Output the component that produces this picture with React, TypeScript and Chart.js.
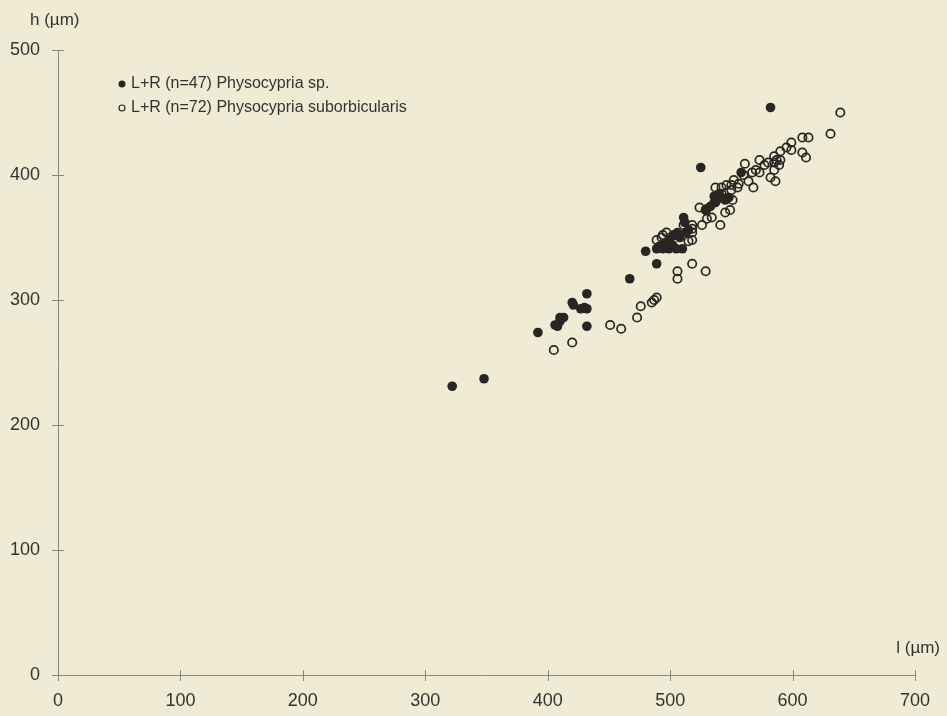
import React, { useEffect, useRef } from "react";
import { Chart, registerables } from "chart.js";

Chart.register(...registerables);

const xTicks = [0, 100, 200, 300, 400, 500, 600, 700];
const yTicks = [0, 100, 200, 300, 400, 500];
const xTitle = "l (µm)";
const yTitle = "h (µm)";
const labelSp = "L+R (n=47) Physocypria sp.";
const labelSub = "L+R (n=72) Physocypria suborbicularis";

const spL = [322, 348, 392, 406, 408, 410, 413, 420, 421, 427, 432, 432, 432, 467, 480, 489, 489, 494, 499, 505, 510, 499, 496, 506, 513, 511, 512, 529, 530, 537, 525, 582, 558, 536, 542, 548, 536, 502, 491, 508, 515, 533, 540, 545, 410, 430, 503];
const spH = [231, 237, 274, 280, 279, 286, 286, 298, 296, 293, 293, 305, 279, 317, 339, 329, 341, 341, 341, 341, 341, 348, 345, 354, 354, 366, 362, 372, 373, 378, 406, 454, 402, 383, 382, 382, 378, 344, 343, 350, 356, 375, 385, 380, 283, 294, 352];

const subL = [405, 420, 451, 460, 473, 476, 485, 489, 487, 489, 497, 503, 493, 515, 518, 511, 518, 518, 506, 506, 529, 526, 534, 541, 549, 524, 529, 639, 631, 608, 613, 599, 599, 608, 611, 590, 585, 587, 585, 589, 573, 577, 573, 585, 582, 586, 561, 567, 570, 564, 568, 552, 550, 555, 556, 537, 542, 550, 538, 551, 542, 518, 518, 545, 580, 595, 560, 530, 546, 500, 494, 590];
const subH = [260, 266, 280, 277, 286, 295, 298, 302, 300, 348, 354, 352, 350, 347, 357, 360, 360, 329, 323, 317, 323, 360, 366, 360, 372, 374, 372, 450, 433, 430, 430, 426, 420, 418, 414, 419, 415, 412, 410, 408, 412, 408, 402, 404, 398, 395, 409, 402, 404, 395, 390, 396, 392, 390, 393, 390, 390, 388, 380, 380, 385, 354, 348, 370, 410, 422, 400, 365, 392, 350, 352, 412];

const BG = "#f0ebd4";
const INK = "#2a2522";
const AXIS = "#8a8680";
const TICK_FONT = "18px 'Liberation Sans', Arial, sans-serif";
const TITLE_FONT = "17px 'Liberation Sans', Arial, sans-serif";
const LEGEND_FONT = "16px 'Liberation Sans', Arial, sans-serif";

const axesPlugin = {
  id: "customAxes",
  afterDraw(chart: any) {
    const ctx = chart.ctx;
    const xs = chart.scales.x;
    const ys = chart.scales.y;
    const x0 = xs.getPixelForValue(0);
    const x7 = xs.getPixelForValue(700);
    const y0 = ys.getPixelForValue(0);
    const y5 = ys.getPixelForValue(500);
    ctx.save();
    ctx.strokeStyle = AXIS;
    ctx.lineWidth = 1;
    ctx.beginPath();
    ctx.moveTo(Math.round(x0) + 0.5, y5);
    ctx.lineTo(Math.round(x0) + 0.5, y0);
    ctx.moveTo(x0, Math.round(y0) + 0.5);
    ctx.lineTo(x7, Math.round(y0) + 0.5);
    xTicks.forEach((v) => {
      const px = Math.round(xs.getPixelForValue(v)) + 0.5;
      ctx.moveTo(px, y0 - 5);
      ctx.lineTo(px, y0 + 6);
    });
    yTicks.forEach((v) => {
      const py = Math.round(ys.getPixelForValue(v)) + 0.5;
      ctx.moveTo(x0 - 6, py);
      ctx.lineTo(x0 + 6, py);
    });
    ctx.stroke();

    ctx.fillStyle = "#333";
    ctx.font = TICK_FONT;
    ctx.textAlign = "center";
    ctx.textBaseline = "middle";
    xTicks.forEach((v) => {
      ctx.fillText(String(v), xs.getPixelForValue(v), y0 + 26);
    });
    ctx.textAlign = "right";
    yTicks.forEach((v) => {
      ctx.fillText(String(v), x0 - 18, ys.getPixelForValue(v));
    });
    ctx.font = TITLE_FONT;
    ctx.textAlign = "left";
    ctx.fillText(yTitle, 30, 20);
    ctx.textAlign = "right";
    ctx.fillText(xTitle, 940, y0 - 27);

    // legend
    ctx.font = LEGEND_FONT;
    ctx.textAlign = "left";
    const lx = 122;
    const ly1 = 84;
    const ly2 = 108;
    ctx.beginPath();
    ctx.arc(lx, ly1, 3.5, 0, Math.PI * 2);
    ctx.fillStyle = INK;
    ctx.fill();
    ctx.beginPath();
    ctx.arc(lx, ly2, 3, 0, Math.PI * 2);
    ctx.strokeStyle = INK;
    ctx.lineWidth = 1.2;
    ctx.stroke();
    ctx.fillStyle = "#333";
    ctx.fillText(labelSp, 131, ly1);
    ctx.fillText(labelSub, 131, ly2);
    ctx.restore();
  },
};

export default function App() {
  const ref = useRef<HTMLCanvasElement>(null);
  useEffect(() => {
    document.body.style.margin = "0";
    document.body.style.background = BG;
    const chart = new Chart(ref.current!, {
      type: "scatter",
      data: {
        datasets: [
          {
            label: labelSub,
            data: subL.map((x, i) => ({ x, y: subH[i] })),
            pointRadius: 4.2,
            pointBorderWidth: 1.7,
            pointBackgroundColor: "rgba(0,0,0,0)",
            pointBorderColor: INK,
          },
          {
            label: labelSp,
            data: spL.map((x, i) => ({ x, y: spH[i] })),
            pointRadius: 4.8,
            pointBorderWidth: 0,
            pointBackgroundColor: INK,
            pointBorderColor: INK,
          },
        ],
      },
      options: {
        animation: false,
        responsive: false,
        layout: { padding: { left: 58, right: 32, top: 50, bottom: 41 } },
        plugins: { legend: { display: false }, tooltip: { enabled: false } },
        scales: {
          x: { type: "linear", min: 0, max: 700, display: false },
          y: { type: "linear", min: 0, max: 500, display: false },
        },
      },
      plugins: [axesPlugin],
    });
    return () => chart.destroy();
  }, []);
  return (
    <div style={{ width: 947, height: 716, background: BG }}>
      <canvas ref={ref} width={947} height={716} style={{ display: "block" }} />
    </div>
  );
}
